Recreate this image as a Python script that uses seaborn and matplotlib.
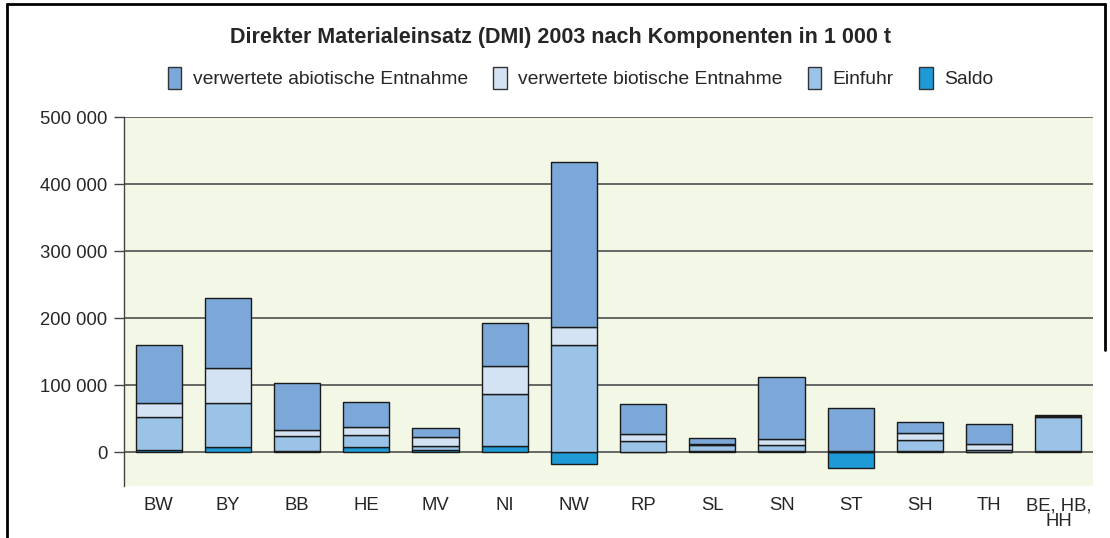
import matplotlib
matplotlib.use("Agg")
import matplotlib.pyplot as plt
from matplotlib.lines import Line2D
from matplotlib.patches import Patch
import numpy as np
import pandas as pd
import seaborn as sns

# ---- data (1 000 t) ----
categories = ["BW", "BY", "BB", "HE", "MV", "NI", "NW", "RP", "SL", "SN", "ST", "SH", "TH", "BE, HB,\nHH"]
saldo = [3000, 8000, 2500, 7400, 3000, 10000, -17500, 500, 1500, 1500, -23000, 2000, 1000, 2500]
einfuhr = [50000, 65000, 22300, 18000, 6400, 76800, 160000, 16400, 10000, 9000, 1000, 16300, 3000, 50600]
biotisch = [21000, 52500, 9000, 12400, 13400, 42200, 27000, 10900, 500, 9000, 500, 11000, 9000, 1000]
abiotisch = [86000, 105000, 70000, 36700, 14000, 64000, 246000, 44700, 10000, 93000, 65000, 16300, 29000, 2000]

series_names = ["verwertete abiotische Entnahme", "verwertete biotische Entnahme", "Einfuhr", "Saldo"]
colors = {"verwertete abiotische Entnahme": "#7BA7D9",
          "verwertete biotische Entnahme": "#D4E3F3",
          "Einfuhr": "#9BC3E8",
          "Saldo": "#1E9AD6"}

sns.set_theme(style="white")
plt.rcParams["font.family"] = ["Liberation Sans", "DejaVu Sans"]

fig = plt.figure(figsize=(11.10, 5.38), dpi=100)
ax = fig.add_axes([124 / 1110, 1 - 486 / 538, (1093 - 124) / 1110, (486 - 117) / 538])
ax.set_facecolor("#F3F7E6")

s = np.array(saldo, dtype=float)
e = np.array(einfuhr, dtype=float)
b = np.array(biotisch, dtype=float)
a = np.array(abiotisch, dtype=float)

pos_s = np.where(s > 0, s, 0)
layers = [
    ("Saldo", s, np.zeros_like(s)),
    ("Einfuhr", e, pos_s),
    ("verwertete biotische Entnahme", b, pos_s + e),
    ("verwertete abiotische Entnahme", a, pos_s + e + b),
]

for name, vals, bottom in layers:
    df = pd.DataFrame({"Land": categories, "Wert": vals})
    sns.barplot(data=df, x="Land", y="Wert", bottom=bottom, color=colors[name],
                saturation=1, width=0.667, edgecolor="#1a1a1a", linewidth=1.0,
                ax=ax, zorder=3)

ax.set_xlim(-0.5, len(categories) - 0.5)
ax.set_ylim(-50000, 500000)
yt = [0, 100000, 200000, 300000, 400000, 500000]
ax.set_yticks(yt)
ax.set_yticklabels([f"{v:,}".replace(",", " ") for v in yt], fontsize=13.3)
ax.yaxis.grid(True, color="#5c5c5c", linewidth=1.3, zorder=1)
ax.set_axisbelow(True)
ax.tick_params(axis="y", direction="out", length=7, width=1, color="#444444", pad=5, left=True)
ax.tick_params(axis="x", length=0, labelsize=13.3, pad=8)
ax.set_xlabel("")
ax.set_ylabel("")
for sp in ["top", "right", "bottom"]:
    ax.spines[sp].set_visible(False)
ax.spines["left"].set_color("#444444")
ax.spines["left"].set_linewidth(1)
for lbl in ax.get_xticklabels():
    lbl.set_linespacing(0.9)

fig.text(0.505, 1 - 38 / 538, "Direkter Materialeinsatz (DMI) 2003 nach Komponenten in 1 000 t",
         ha="center", va="center", fontsize=15.5, fontweight="bold")

handles = [Patch(facecolor=colors[n], edgecolor="#333333", linewidth=1) for n in series_names]
fig.legend(handles, series_names, loc="center", bbox_to_anchor=(0.523, 1 - 78 / 538), ncol=4,
           frameon=False, fontsize=13.9, handlelength=0.7, handleheight=1.4,
           handletextpad=0.6, columnspacing=1.3)

# figure frame
fig.add_artist(Line2D([7 / 1110, 7 / 1110], [0, 1 - 4 / 538], transform=fig.transFigure, color="black", lw=2))
fig.add_artist(Line2D([7 / 1110, 1105 / 1110], [1 - 4 / 538, 1 - 4 / 538], transform=fig.transFigure, color="black", lw=2))
fig.add_artist(Line2D([1105 / 1110, 1105 / 1110], [1 - 4 / 538, 1 - 350 / 538], transform=fig.transFigure, color="black", lw=2))

fig.savefig("out.png", dpi=100)
